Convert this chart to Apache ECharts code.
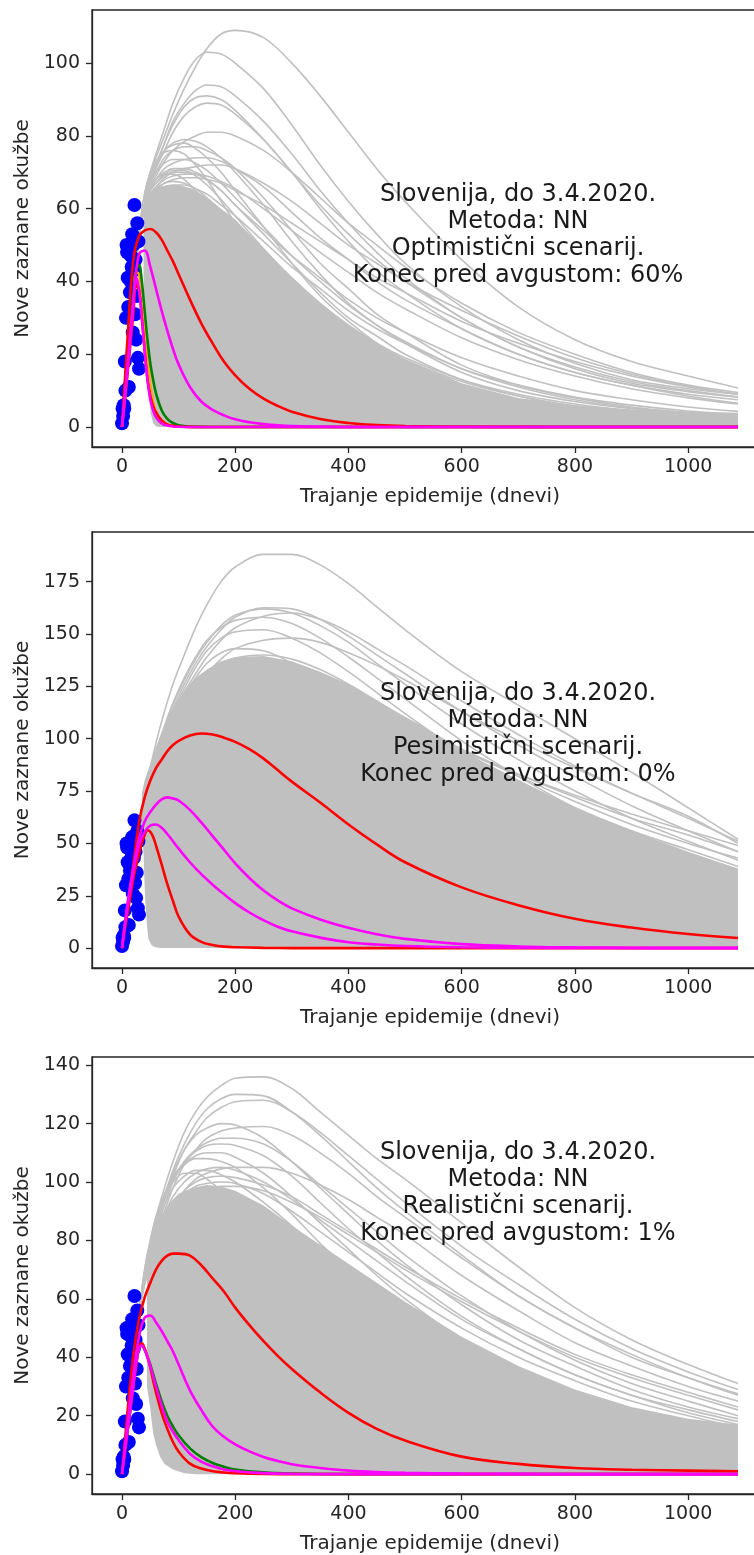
<!DOCTYPE html>
<html><head><meta charset="utf-8">
<script src="https://cdn.jsdelivr.net/npm/echarts@6/dist/echarts.min.js"></script>
<style>html,body{margin:0;padding:0;background:#fff}#c{width:754px;height:1555px}</style>
</head><body><div id="c"></div>
<script>
// ---------- observed data (blue points) ----------
const dataDays  = [0,1,2,3,4,5,6,7,8,9,10,11,12,13,14,15,16,17,18,19,20,21,22,23,24,25,26,27,28,29,30];
const dataCases = [1,5,3,6,5,18,10,30,50,48,41,33,11,41,37,40,47,44,53,26,50,43,61,31,46,24,36,56,19,51,16];

// ---------- tick labels ----------
const xTicks  = [0,200,400,600,800,1000];
const y1Ticks = [0,20,40,60,80,100];
const y2Ticks = [0,25,50,75,100,125,150,175];
const y3Ticks = [0,20,40,60,80,100,120,140];

// day grids
const GX = [0,10,20,30,40,50,60,75,90,110,130,150,175,200,250,300,350,400,450,500,600,700,800,900,1000,1088];   // grey ensemble
const CX = [0,10,20,30,40,50,60,70,80,90,100,120,140,160,180,200,225,250,275,300,350,400,450,500,600,700,800,900,1000,1088]; // wide coloured curves
const NX = [0,5,10,15,20,25,30,35,40,45,50,55,60,70,80,90,100,120,140,160,180,200,250,300,400,1088];   // narrow coloured curves

// ---------- panel 1 (optimistic) ----------
const p1Gray = [
 [0,17,35,53,64,70,74,80,86,93,99,104,108,109,107,100,91,81,71,62,46,33,24,18,14,10.7],
 [0,17,35,53,64,70,75,82,89,96,101,103,102.5,100,93,83,72,62,53,45,33,24,17.5,13,10.5,9],
 [0,17,35,53,63,68,72,78,84,89,92.5,94,93.5,91,84,75,65,56,48,41,30,22,16,12,9.7,8.2],
 [0,17,35,53,63,68,72,78,83,88,90.5,91,90,87,79,70,60,51,43,37,27,20,15,11.5,9,7.5],
 [0,17,35,53,62,67,71,76,81,85.5,88,89,88.5,86,79,70,61,53,46,40,30,22,16.5,12.5,10,8.3],
 [0,17,35,53,62,66,69,73,76,78.5,80,81,81,80,76,70,63,56,50,44,34,26,20,15,11.5,9.5],
 [0,17,35,53,63,68,72,76,78,79,78.5,77,74,70,61,51,42,34,28,23,15,10,7,5,3.8,3],
 [0,17,35,53,63,69,73,76,77.5,78,76.5,74,70,65,55,45,36,29,23,18,11.5,7.5,5,3.5,2.5,2],
 [0,17,35,53,62,67,70,74,76,77,77,76,74,71,63,54,45,38,31,26,17,11.5,8,5.5,4,3.2],
 [0,17,35,53,64,70,73,75.5,76,75,72,68,62,56,44,34,26,19.5,15,11,6.5,3.8,2.2,1.3,0.8,0.5],
 [0,17,35,53,61,65,68,71,72.5,73.5,74,74,73,71,66,59,52,46,40,35,27,20,15,11.5,8.5,6.5],
 [0,17,35,53,60,64,66,68.5,70,71,71.5,72,72,71,67,62,56,50,45,40,32,25,19,14.5,11.2,9],
 [0,17,35,53,61,65,67,69,70,70,69.5,68,65,61,53,45,37,30,25,20,13,8.5,5.5,3.8,2.6,2],
 [0,17,35,53,60,63,65,66,66,65.5,63,60,55,50,40,31,24,18,13.5,10,5.5,3,1.7,1,0.6,0.4],
 [0,17,35,53,62,66,68,70,71,71,70,68,65,61,54,47,41,35,30,26,19,14,10,7.5,5.5,4.3],
 [0,17,35,53,61,65,67,69.5,70.5,70.5,69,66.5,62.5,58,49,41,34,28,23,19,13,9,6.3,4.5,3.3,2.6],
 [0,17,35,53,60,63,65,67,68,68.5,68.5,68,67,65,61,56,51,46,41,37,29,23,18,14,11,9],
 [0,17,35,53,62,66,68,69.5,69.5,68,65,61,56,51,41,33,26,20.5,16,12.5,7.5,4.6,2.8,1.7,1.1,0.8],
 [0,17,35,53,60,63,64.5,66,66.5,66.5,65.5,64,61,58,51,44,38,32,27,23,16,11.5,8.2,6,4.4,3.5],
 [0,17,35,53,60,63.5,65.5,67,67.5,67,65.5,63,59.5,55.5,47.5,40,33,27.5,22.5,18.5,12.5,8.5,5.8,4,2.8,2.2],
 [0,17,35,53,61,64,66,68,69,69.5,69.5,69,67.5,65.5,60,54,48,42.5,37,32.5,24.5,18.5,14,10.5,8,6.3],
 [0,17,35,53,62,67,70,72.5,73.5,73.5,72.5,70.5,67,63,55,47,40,33.5,28,23.5,16,11,7.5,5.2,3.7,2.9]
];
const p1Dense = [[38,40],[38,62],[45,64],[60,65.5],[80,66.5],[100,66.5],[125,65.5],[150,63],[175,60],[200,57],[250,49],[300,41],[350,34],[400,28],[450,23],[500,18.5],[600,12],[700,8],[800,6],[900,4.8],[1000,4.2],[1088,3.9],[1088,0],[65,0],[60,0.2],[55,1],[50.6,3.7],[46.6,13],[43.6,22],[40.6,31]];
const p1RedWide   = [0,25,46,52.5,54,54.4,53.5,51.5,48.5,45.5,42,35,28.5,23,18,14.2,10.5,7.8,5.8,4.2,2.2,1.1,0.55,0.28,0.07,0.02,0,0,0,0];            // on CX
const p1MagWide   = [0,17,35,47.5,48.5,44,38,32,26.5,21.5,17.2,11,7,4.7,3.2,2.1,1.3,0.8,0.45,0.25,0.1,0,0,0,0,0,0,0,0,0];                                // on CX
const p1RedNarrow = [0,7,15,23,31,39,37.5,30,21,13,8.5,5.7,4,1.8,0.7,0.3,0.15,0.03,0,0,0,0,0,0,0,0];                                                  // on NX
const p1Orange    = [0,8,16,25,34,42.5,42,36,27,18.5,11.5,7,4.2,1.5,0.6,0.3,0.12,0.02,0,0,0,0,0,0,0,0];                                               // on NX
const p1Green     = [0,8.5,17,27,36,43,44.5,40,32,24,17.5,13,9.3,4.6,2.2,1.1,0.5,0.1,0.02,0,0,0,0,0,0,0];                                             // on NX
const p1MagNarrow = [0,8,16,24.5,33,41,38,30,21,13,7.5,4.5,2.7,1,0.4,0.15,0.05,0,0,0,0,0,0,0,0,0];                                                   // on NX

// ---------- panel 2 (pessimistic) ----------
const p2Gray = [
 [0,17,36,55,72,86,98,113,126,140,153,164,175,182,188,188,183,174,163,152,132,116,100,84,67,52],
 [0,17,36,55,70,82,92,104,114,126,136,144,152,158,162.5,162,157,149,140,131,113,97,82,68,56,46],
 [0,17,36,55,70,82,93,105,116,128,138,146,154,159,162,160,154,146,136,126,107,90,75,62,51,42],
 [0,17,36,55,69,80,90,101,111,122,131,139,147,153,158.5,160,157,151,143,135,118,102,87,74,62,51],
 [0,17,36,55,70,83,94,106,117,129,139,147,153,156.5,158,155,148,139,129,119,99,82,67,55,45,37],
 [0,17,36,55,69,81,91,103,113,124,134,142,148,151,152,148,141,132,122,112,93,77,63,51,42,34],
 [0,17,36,55,68,78,87,97,106,116,124,131,138,143,147,148,146,141,135,128,113,99,86,74,63,50],
 [0,17,36,55,69,80,90,101,111,121,129,136,141,143,142,136,127,117,107,97,79,64,51,41,33,27],
 [0,17,36,55,67,77,86,96,105,115,123,130,135,138.5,140,138,133,126,118,110,94,80,67,56,47,39],
 [0,17,36,55,66,75,83,92,100,108,113,117,120,121.5,122,121,118,114,110,105,94,83,73,64,56,49],
 [0,17,36,55,68,79,88,99,108,117,123,127,129.5,130,127,119,109,98,88,78,61,47,36,28,21,17],
 [0,17,36,55,68,78,87,97,106,115,122,128,133,136,138,136,131,124,117,110,95,82,70,59,50,43],
 [0,17,36,55,69,80,89,99,108,117,124,129,133,135,134,129,121,112,103,94,78,64,52,42,34,28],
 [0,17,36,55,67,76,84,93,101,110,117,122,127,130,132,131,127,121,115,108,95,83,72,62,54,46],
 [0,17,36,55,68,78,86,95,103,111,117,121,124,125,123,117,109,101,92,84,69,56,45,36,29,24]
];
const p2Dense = [[38,45],[35,60],[35,74],[40,80],[50,88],[60,96],[75,106],[90,114],[110,123],[130,129],[150,133],[175,137],[200,139],[250,139.5],[300,137],[350,132],[400,126],[450,118],[500,110],[600,94],[700,80],[800,67],[900,56],[1000,46],[1088,38],[1088,0],[70,0],[60,0.3],[52.5,1.3],[46.5,4.5],[43.6,12.4],[40.6,25]];
const p2RedWide   = [0,20,40,60,72,80,86,90,94,97,99,101.5,102.5,102,100.5,98.5,95,90.5,85,79.5,69.5,59,49.5,41,29,20.5,14,9.8,6.7,4.8];                   // on CX
const p2MagWide   = [0,22,38,52.5,60.5,65,68.5,71,72,71.5,70.5,66,60,53.5,47,40.5,33.5,27.5,22.8,19,13.7,9.7,6.6,4.4,1.9,0.8,0.35,0.15,0.1,0.1];         // on CX
const p2MagNarrow = [0,20,36,49,55.5,58.5,59,57.5,54.5,51,47.5,41,35.3,30.3,25.8,21.5,17,13.3,10.2,8,5,2.8,1.7,1,0.4,0.15,0.1,0,0,0];                   // on CX
const p2RedNarrow = [0,9,17,25,33,39.5,45,50,54,56.3,55.5,53,49,40,30.5,22.5,15,6.5,3,1.5,0.7,0.4,0.1,0,0,0];                                       // on NX

// ---------- panel 3 (realistic) ----------
const p3Gray = [
 [0,17,36,55,70,80,88,98,107,117,124,129,133,135.5,136,132,124,116,108,101,86,71,57,46,37.5,31],
 [0,17,36,55,69,78,86,95,104,113,120,125,128.5,130,129.5,124,116,107,98,90,75,61,50,40,33,27.5],
 [0,17,36,55,68,77,85,94,102,111,117,122,125.5,127.5,128,124,117,109,101,93,78,65,53,43,35,29],
 [0,17,36,55,69,78,86,95,103,111,116,118.5,120,119.5,115,107,98,89,80,72,58,46,37,29,23,19],
 [0,17,36,55,67,75,82,90,98,106,111,115,117.5,118.5,119,116,110,103,95,88,74,61,50,41,33,27],
 [0,17,36,55,68,76,84,92,100,107,111,113.5,115,115,113,107,99,91,83,75,61,49,39,31,25,20],
 [0,17,36,55,69,78,86,94,101,107,110.5,112.5,113,112.5,109,102,93,84,76,68,54,43,34,27,21,17],
 [0,17,36,55,69,78,86,94,101,106,109,110,110,108.5,103,95,86,77,68,60,46,35,27,21,16,13],
 [0,17,36,55,70,80,88,96,102,106,108,108,107,105,98,89,79,70,61,53,40,30,22,17,13,10.5],
 [0,17,36,55,65,72,78,85,91,97,101,103,104.5,105,105,103,99,94,88,82,68,56,45,37,30,25],
 [0,17,36,55,69,79,87,95,100,103,103,101,97,92,81,70,60,51,43,36,25,18,13,9.5,7,5.5],
 [0,17,36,55,66,74,80,87,92,96,98.5,99.5,100,99.5,96,90,83,76,69,62,50,40,32,25,20,16],
 [0,17,36,55,67,75,82,89,95,100,103,104.5,105,104,100,94,87,80,73,66,53,43,34,27,22,18],
 [0,17,36,55,66,73,79,86,92,97,100,101.5,102,101.5,99,95,89,83,77,71,60,50,41,34,28,23],
 [0,17,36,55,68,77,84,92,98,102,104,104,102.5,100,93,85,76,68,60,53,41,31,24,18.5,14.5,11.5],
 [0,17,36,55,65,72,78,84,89,93,96,97.5,98.5,98.5,97,93,88,82,76,70,59,49,40,33,27,22]
];
const p3Dense = [[44,30],[44,76],[50,80],[60,85],[70,89],[85,93],[100,96],[125,98],[150,99],[175,98.5],[200,97],[250,92],[300,85],[350,78.5],[400,72],[450,65.5],[500,59],[600,47],[700,37],[800,29],[900,23],[1000,19],[1088,17],[1088,0],[130,0],[110,0.3],[91,1.5],[75,3.5],[67,6],[60,10],[55,14],[49.5,23]];
const p3RedWide   = [0,22,41,53,60.5,65.5,70,73,74.8,75.5,75.5,74.8,71.5,67,62.5,57,51,45.5,40.5,36,28,21,15.5,11.5,6,3.5,2.1,1.5,1.2,1];                   // on CX
const p3MagWide   = [0,18,34,47,53.5,54.3,52,49,45.5,42,37.5,28.7,22,16.3,12.8,10.2,7.8,5.9,4.5,3.4,2.1,1.2,0.7,0.45,0.2,0.1,0,0,0,0];                   // on CX
const p3Green     = [0,7.5,15,22.5,30,37.5,43,44,42.5,40.2,37.5,34.3,31,25,20,16.3,13.3,8.8,5.8,3.8,2.5,1.6,0.6,0.2,0,0];                            // on NX
const p3RedNarrow = [0,7.5,15,22.5,30,37.5,43.5,44.8,43,40,36.5,32,28,21,15.5,11,7.7,3.6,1.9,1,0.55,0.3,0.05,0,0,0];                               // on NX
const p3MagNarrow = [0,7.5,15,22.5,30,37.5,43,44,42.5,40,37,33.5,30,23.5,18,14.5,11.6,7,4.3,2.7,1.6,1,0.35,0.1,0,0];                                // on NX

// ---------- annotation text ----------
const noteTitle = 'Slovenija, do 3.4.2020.';
const noteMethod = 'Metoda: NN';
const scenarios = ['Optimistični scenarij.', 'Pesimistični scenarij.', 'Realistični scenarij.'];
const endShares = ['60%', '0%', '1%'];
const xName = 'Trajanje epidemije (dnevi)';
const yName = 'Nove zaznane okužbe';

// ---------- layout / styles ----------
const FONT = 'DejaVu Sans';
const INK = '#262626';
const GRAY = '#c0c0c0';
const RED = '#ff0000', MAG = '#ff00ff', GREEN = '#008000', ORANGE = '#ffa500';
const grids = [
  {left: 92, top: 10, width: 676, height: 437},
  {left: 92, top: 532, width: 676, height: 436},
  {left: 92, top: 1057, width: 676, height: 437}
];
const yRanges = [[-5.5, 114.6], [-9.5, 198.7], [-6.8, 142.8]];
const yTickSets = [y1Ticks, y2Ticks, y3Ticks];
const noteCenters = [[518, 235], [518, 734], [518, 1193]];

const pair = (xs, ys) => xs.map((x, k) => [x, ys[k]]);
const panels = [
  {gray: p1Gray, dense: p1Dense, colored: [
    [pair(NX, p1Orange), ORANGE], [pair(NX, p1Green), GREEN], [pair(CX, p1RedWide), RED],
    [pair(NX, p1RedNarrow), RED], [pair(CX, p1MagWide), MAG], [pair(NX, p1MagNarrow), MAG]]},
  {gray: p2Gray, dense: p2Dense, colored: [
    [pair(CX, p2RedWide), RED], [pair(NX, p2RedNarrow), RED], [pair(CX, p2MagWide), MAG], [pair(CX, p2MagNarrow), MAG]]},
  {gray: p3Gray, dense: p3Dense, colored: [
    [pair(NX, p3Green), GREEN], [pair(CX, p3RedWide), RED], [pair(NX, p3RedNarrow), RED],
    [pair(CX, p3MagWide), MAG], [pair(NX, p3MagNarrow), MAG]]}
];

const plain = v => String(v);
const xAxes = [], yAxes = [], series = [], graphics = [];
panels.forEach((p, i) => {
  xAxes.push({
    type: 'value', gridIndex: i, min: -53, max: 1141,
    splitLine: {show: false},
    axisLine: {show: true, onZero: false, lineStyle: {color: INK, width: 1.3}},
    axisTick: {show: true, length: 6, customValues: xTicks, lineStyle: {color: INK, width: 1.3}},
    axisLabel: {customValues: xTicks, formatter: plain, fontFamily: FONT, fontSize: 19, color: INK, margin: 11},
    name: xName, nameLocation: 'middle', nameGap: 40,
    nameTextStyle: {fontFamily: FONT, fontSize: 20, color: INK}
  });
  yAxes.push({
    type: 'value', gridIndex: i, min: yRanges[i][0], max: yRanges[i][1],
    splitLine: {show: false},
    axisLine: {show: true, onZero: false, lineStyle: {color: INK, width: 1.3}},
    axisTick: {show: true, length: 6, customValues: yTickSets[i], lineStyle: {color: INK, width: 1.3}},
    axisLabel: {customValues: yTickSets[i], formatter: plain, fontFamily: FONT, fontSize: 19, color: INK, margin: 12},
    name: yName, nameLocation: 'middle', nameGap: 59, nameRotate: 90,
    nameTextStyle: {fontFamily: FONT, fontSize: 20, color: INK}
  });
  const poly = p.dense;
  series.push({
    type: 'custom', xAxisIndex: i, yAxisIndex: i, silent: true, z: 1,
    data: [[0, 0]],
    renderItem: (params, api) => ({
      type: 'polygon',
      shape: {points: poly.map(pt => api.coord(pt)), smooth: 0},
      style: {fill: GRAY}
    })
  });
  p.gray.forEach(vals => {
    series.push({
      type: 'line', xAxisIndex: i, yAxisIndex: i, silent: true, z: 2,
      data: pair(GX, vals),
      showSymbol: false, symbol: 'none', smooth: 0.35,
      lineStyle: {color: GRAY, width: 1.6}
    });
  });
  series.push({
    type: 'scatter', xAxisIndex: i, yAxisIndex: i, silent: true, z: 3,
    data: pair(dataDays, dataCases),
    symbolSize: 14, itemStyle: {color: '#0000ff', opacity: 1}
  });
  p.colored.forEach(([d, c]) => {
    series.push({
      type: 'line', xAxisIndex: i, yAxisIndex: i, silent: true, z: 4,
      data: d, showSymbol: false, symbol: 'none', smooth: 0.4,
      lineStyle: {color: c, width: 2.6}
    });
  });
  graphics.push({
    type: 'text', x: noteCenters[i][0], y: noteCenters[i][1], z: 100,
    style: {
      text: [noteTitle, noteMethod, scenarios[i], 'Konec pred avgustom: ' + endShares[i]].join('\n'),
      fontFamily: FONT, fontSize: 24, lineHeight: 27, fill: '#1a1a1a',
      textAlign: 'center', textVerticalAlign: 'middle', align: 'center', verticalAlign: 'middle'
    }
  });
});

const chart = echarts.init(document.getElementById('c'), null, {renderer: 'canvas'});
chart.setOption({
  animation: false,
  backgroundColor: '#ffffff',
  grid: grids.map(g => Object.assign({show: true, borderColor: INK, borderWidth: 1.3, backgroundColor: 'transparent', outerBoundsMode: 'none', containLabel: false}, g)),
  xAxis: xAxes,
  yAxis: yAxes,
  series: series,
  graphic: graphics
});
</script>
</body></html>
